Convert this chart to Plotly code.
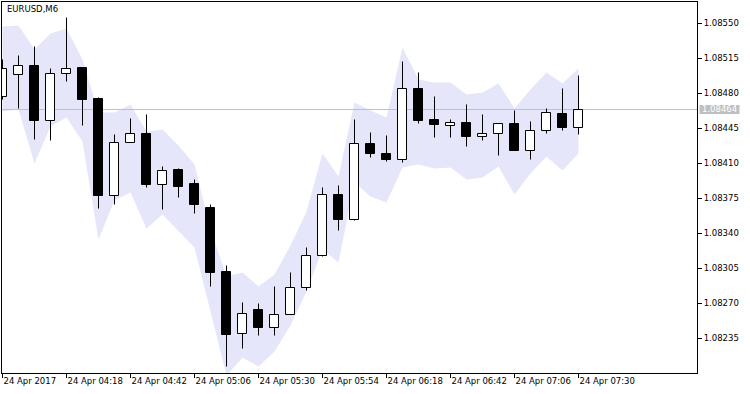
import plotly.graph_objects as go

# ---------------- data ----------------
times = ["03:54", "04:00", "04:06", "04:12", "04:18", "04:24", "04:30", "04:36", "04:42",
         "04:48", "04:54", "05:00", "05:06", "05:12", "05:18", "05:24", "05:30", "05:36",
         "05:42", "05:48", "05:54", "06:00", "06:06", "06:12", "06:18", "06:24", "06:30",
         "06:36", "06:42", "06:48", "06:54", "07:00", "07:06", "07:12", "07:18", "07:24", "07:30"]

opens = [1.08477, 1.08499, 1.08508, 1.08453, 1.08500, 1.08506, 1.08475, 1.08378, 1.08431,
         1.08440, 1.08389, 1.08404, 1.08390, 1.08366, 1.08302, 1.08240, 1.08264, 1.08246,
         1.08259, 1.08286, 1.08318, 1.08379, 1.08354, 1.08430, 1.08420, 1.08414, 1.08485,
         1.08454, 1.08448, 1.08451, 1.08437, 1.08440, 1.08450, 1.08423, 1.08443, 1.08460, 1.08446]
highs = [1.08514, 1.08518, 1.08527, 1.08505, 1.08556, 1.08506, 1.08476, 1.08439, 1.08455,
         1.08459, 1.08407, 1.08405, 1.08394, 1.08369, 1.08308, 1.08271, 1.08270, 1.08287,
         1.08301, 1.08326, 1.08386, 1.08388, 1.08454, 1.08441, 1.08438, 1.08512, 1.08501,
         1.08477, 1.08454, 1.08469, 1.08459, 1.08450, 1.08463, 1.08452, 1.08465, 1.08485, 1.08498]
lows = [1.08474, 1.08465, 1.08434, 1.08433, 1.08492, 1.08448, 1.08365, 1.08369, 1.08431,
        1.08386, 1.08364, 1.08376, 1.08360, 1.08287, 1.08207, 1.08225, 1.08238, 1.08238,
        1.08259, 1.08283, 1.08317, 1.08343, 1.08353, 1.08416, 1.08412, 1.08411, 1.08450,
        1.08436, 1.08436, 1.08427, 1.08433, 1.08418, 1.08423, 1.08414, 1.08440, 1.08443, 1.08439]
closes = [1.08505, 1.08508, 1.08453, 1.08500, 1.08505, 1.08474, 1.08378, 1.08431, 1.08440,
          1.08389, 1.08403, 1.08387, 1.08369, 1.08301, 1.08239, 1.08260, 1.08246, 1.08259,
          1.08286, 1.08318, 1.08379, 1.08354, 1.08430, 1.08420, 1.08414, 1.08485, 1.08453,
          1.08449, 1.08451, 1.08437, 1.08440, 1.08450, 1.08423, 1.08443, 1.08461, 1.08446, 1.08464]

band_upper = [1.08547, 1.08548, 1.08524, 1.08540, 1.08545, 1.08514, 1.08461, 1.08461, 1.08469,
              1.08442, 1.08444, 1.08428, 1.08409, 1.08344, 1.08297, 1.08301, 1.08287, 1.08299,
              1.08328, 1.08362, 1.08420, 1.08397, 1.08471, 1.08463, 1.08456, 1.08526, 1.08494,
              1.08491, 1.08491, 1.08479, 1.08481, 1.08490, 1.08465, 1.08484, 1.08501, 1.08490, 1.08505]
band_lower = [1.08462, 1.08464, 1.08410, 1.08447, 1.08456, 1.08432, 1.08334, 1.08373, 1.08381,
              1.08345, 1.08359, 1.08343, 1.08326, 1.08262, 1.08198, 1.08216, 1.08207, 1.08222,
              1.08248, 1.08282, 1.08324, 1.08311, 1.08391, 1.08377, 1.08371, 1.08406, 1.08409,
              1.08405, 1.08406, 1.08394, 1.08396, 1.08407, 1.08379, 1.08400, 1.08417, 1.08403, 1.08420]

last_price = 1.08464
ytick_vals = [1.08235, 1.08270, 1.08305, 1.08340, 1.08375, 1.08410, 1.08445, 1.08480, 1.08515, 1.08550]
xtick_idx = [0, 4, 8, 12, 16, 20, 24, 28, 32, 36]
xtick_labels = ["24 Apr 2017", "24 Apr 04:18", "24 Apr 04:42", "24 Apr 05:06", "24 Apr 05:30",
                "24 Apr 05:54", "24 Apr 06:18", "24 Apr 06:42", "24 Apr 07:06", "24 Apr 07:30"]
title_text = "EURUSD,M6"

# ---------------- figure ----------------
W, H = 750, 394
ML, MR, MT, MB = 2, 53, 2, 21
PW, PH = W - ML - MR, H - MT - MB
BAR_PX = 16
X0 = -0.5 / BAR_PX
X1 = X0 + PW / BAR_PX
Y1 = 1.085715
Y0 = Y1 - PH * 1e-5

xs = list(range(len(times)))
FONT = "DejaVu Sans, Verdana, sans-serif"
FS = 8.5

fig = go.Figure()

# band (main axes)
fig.add_trace(go.Scatter(x=xs, y=band_upper, mode="lines", line=dict(width=0, color="#E6E6FA"),
                         hoverinfo="skip", showlegend=False))
fig.add_trace(go.Scatter(x=xs, y=band_lower, mode="lines", line=dict(width=0, color="#E6E6FA"),
                         fill="tonexty", fillcolor="#E6E6FA", hoverinfo="skip", showlegend=False))
# current price line
fig.add_trace(go.Scatter(x=[X0, X1], y=[last_price, last_price], mode="lines",
                         line=dict(color="#C0C0C0", width=1), hoverinfo="skip", showlegend=False))

# candles on overlay axes
body_lo = [min(o, c) for o, c in zip(opens, closes)]
body_hi = [max(o, c) for o, c in zip(opens, closes)]
body_h = [max(h - l, 1e-6) for h, l in zip(body_hi, body_lo)]
colors = ["white" if c >= o else "black" for o, c in zip(opens, closes)]

wx, wy = [], []
for i in xs:
    if highs[i] > body_hi[i]:
        wx += [i, i, None]
        wy += [highs[i], body_hi[i], None]
    if lows[i] < body_lo[i]:
        wx += [i, i, None]
        wy += [body_lo[i], lows[i], None]
fig.add_trace(go.Scatter(x=wx, y=wy, mode="lines", line=dict(color="black", width=1),
                         xaxis="x2", yaxis="y2", hoverinfo="skip", showlegend=False))
fig.add_trace(go.Bar(x=xs, y=body_h, base=body_lo, width=9 / BAR_PX,
                     marker=dict(color=colors, line=dict(color="black", width=1)),
                     xaxis="x2", yaxis="y2", showlegend=False,
                     customdata=list(zip(times, opens, highs, lows, closes)),
                     hovertemplate="%{customdata[0]}<br>O %{customdata[1]}<br>H %{customdata[2]}"
                                   "<br>L %{customdata[3]}<br>C %{customdata[4]}<extra></extra>"))

fig.update_layout(
    width=W, height=H,
    margin=dict(l=ML, r=MR, t=MT, b=MB, pad=0, autoexpand=False),
    paper_bgcolor="white", plot_bgcolor="white",
    font=dict(family=FONT, size=FS, color="black"),
    bargap=0,
    xaxis=dict(range=[X0, X1], showgrid=False, zeroline=False, automargin=False,
               showline=True, linecolor="black", linewidth=1, mirror=True,
               ticks="outside", ticklen=4, tickwidth=1, tickcolor="black",
               tickmode="array", tickvals=xtick_idx, ticktext=xtick_labels,
               ticklabelposition="outside right", tickangle=0,
               tickfont=dict(family=FONT, size=FS, color="black")),
    yaxis=dict(range=[Y0, Y1], side="right", showgrid=False, zeroline=False, automargin=False,
               showline=True, linecolor="black", linewidth=1, mirror=True,
               ticks="outside", ticklen=4, tickwidth=1, tickcolor="black",
               tickmode="array", tickvals=ytick_vals,
               ticktext=[f"{v:.5f}" for v in ytick_vals],
               tickfont=dict(family=FONT, size=FS, color="black")),
    xaxis2=dict(range=[X0, X1], overlaying="x", anchor="y2", visible=False),
    yaxis2=dict(range=[Y0, Y1], overlaying="y", anchor="x2", visible=False),
)

# price label box at right axis
yp = (last_price - Y0) / (Y1 - Y0)
hp = 4.5 / PH
fig.add_shape(type="rect", xref="paper", yref="paper",
              x0=1 + 2.5 / PW, x1=1 + 42.5 / PW, y0=yp - hp, y1=yp + hp,
              fillcolor="#C0C0C0", line=dict(width=0), layer="above")
fig.add_annotation(xref="paper", yref="paper", x=1 + 22.5 / PW, y=yp, text=f"{last_price:.5f}",
                   showarrow=False, xanchor="center", yanchor="middle",
                   font=dict(family=FONT, size=FS, color="white"))

fig.add_annotation(xref="paper", yref="paper", x=0, y=1, xanchor="left", yanchor="top",
                   xshift=3, yshift=0, text=title_text, showarrow=False,
                   font=dict(family=FONT, size=FS, color="black"))

fig.write_html("out.html", config={"displayModeBar": False},
               post_script="document.body.style.margin='0';document.body.style.overflow='hidden';")
